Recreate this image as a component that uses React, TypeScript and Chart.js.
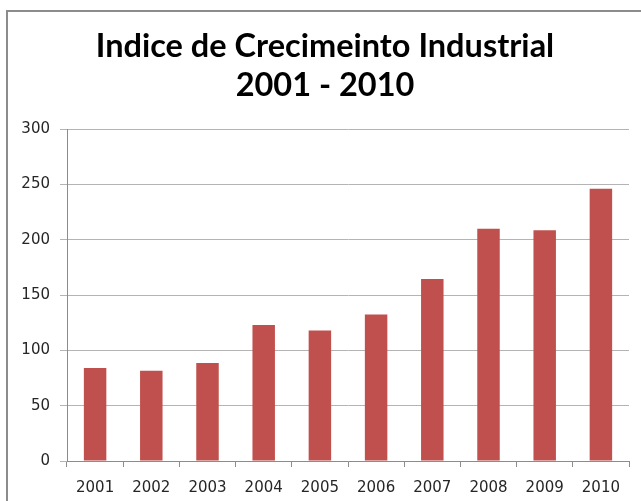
import React, { useEffect, useRef } from "react";
import { Chart, registerables } from "chart.js";

Chart.register(...registerables);

const titleLines = ["Indice de Crecimeinto Industrial", "2001 - 2010"];
const years = ["2001", "2002", "2003", "2004", "2005", "2006", "2007", "2008", "2009", "2010"];
const values = [84, 81.5, 88.5, 123, 118, 132.5, 164.5, 210, 208.5, 246];
const yMin = 0;
const yMax = 300;
const yStep = 50;

const CANVAS_LEFT = 21;
const CANVAS_W = 641 - CANVAS_LEFT;

export default function App() {
  const ref = useRef<HTMLCanvasElement | null>(null);

  useEffect(() => {
    if (!ref.current) return;
    const chart = new Chart(ref.current, {
      type: "bar",
      data: {
        labels: years,
        datasets: [
          {
            data: values,
            backgroundColor: "#C0504D",
            borderColor: "#C0504D",
            borderWidth: 0,
            barPercentage: 0.4,
            categoryPercentage: 1,
          },
        ],
      },
      options: {
        responsive: false,
        animation: false,
        layout: { padding: { left: 0, right: 12, top: 0, bottom: 0 } },
        plugins: {
          legend: { display: false },
          tooltip: { enabled: false },
          title: {
            display: true,
            text: titleLines,
            color: "#000000",
            font: { family: "Lato", size: 32.5, weight: "bold", lineHeight: 1.17 },
            padding: { top: 28, bottom: 25 },
          },
        },
        scales: {
          x: {
            grid: {
              display: true,
              offset: true,
              drawOnChartArea: false,
              drawTicks: true,
              tickLength: 6,
              color: "#8c8c8c",
            },
            border: { display: true, color: "#8c8c8c", width: 1 },
            ticks: {
              color: "#262626",
              font: { family: "DejaVu Sans", size: 15 },
              padding: 12,
              maxRotation: 0,
            },
            afterFit: (s: any) => {
              s.height = 40;
            },
          },
          y: {
            min: yMin,
            max: yMax,
            ticks: {
              stepSize: yStep,
              color: "#262626",
              font: { family: "DejaVu Sans", size: 15 },
              padding: 10,
            },
            grid: {
              color: "#b4b4b4",
              lineWidth: 1,
              drawTicks: true,
              tickLength: 7,
            },
            border: { display: true, color: "#8c8c8c", width: 1 },
            afterFit: (s: any) => {
              s.width = 67 - CANVAS_LEFT;
            },
          },
        },
      },
    });
    return () => chart.destroy();
  }, []);

  return (
    <div style={{ position: "fixed", left: 0, top: 0, width: 641, height: 501, overflow: "hidden", background: "#ffffff" }}>
      <div
        style={{
          position: "absolute",
          left: 6,
          top: 10,
          width: 700,
          height: 600,
          border: "2px solid #8c8c8c",
        }}
      />
      <canvas
        ref={ref}
        width={CANVAS_W}
        height={501}
        style={{ position: "absolute", left: CANVAS_LEFT, top: 0, width: CANVAS_W, height: 501 }}
      />
    </div>
  );
}
